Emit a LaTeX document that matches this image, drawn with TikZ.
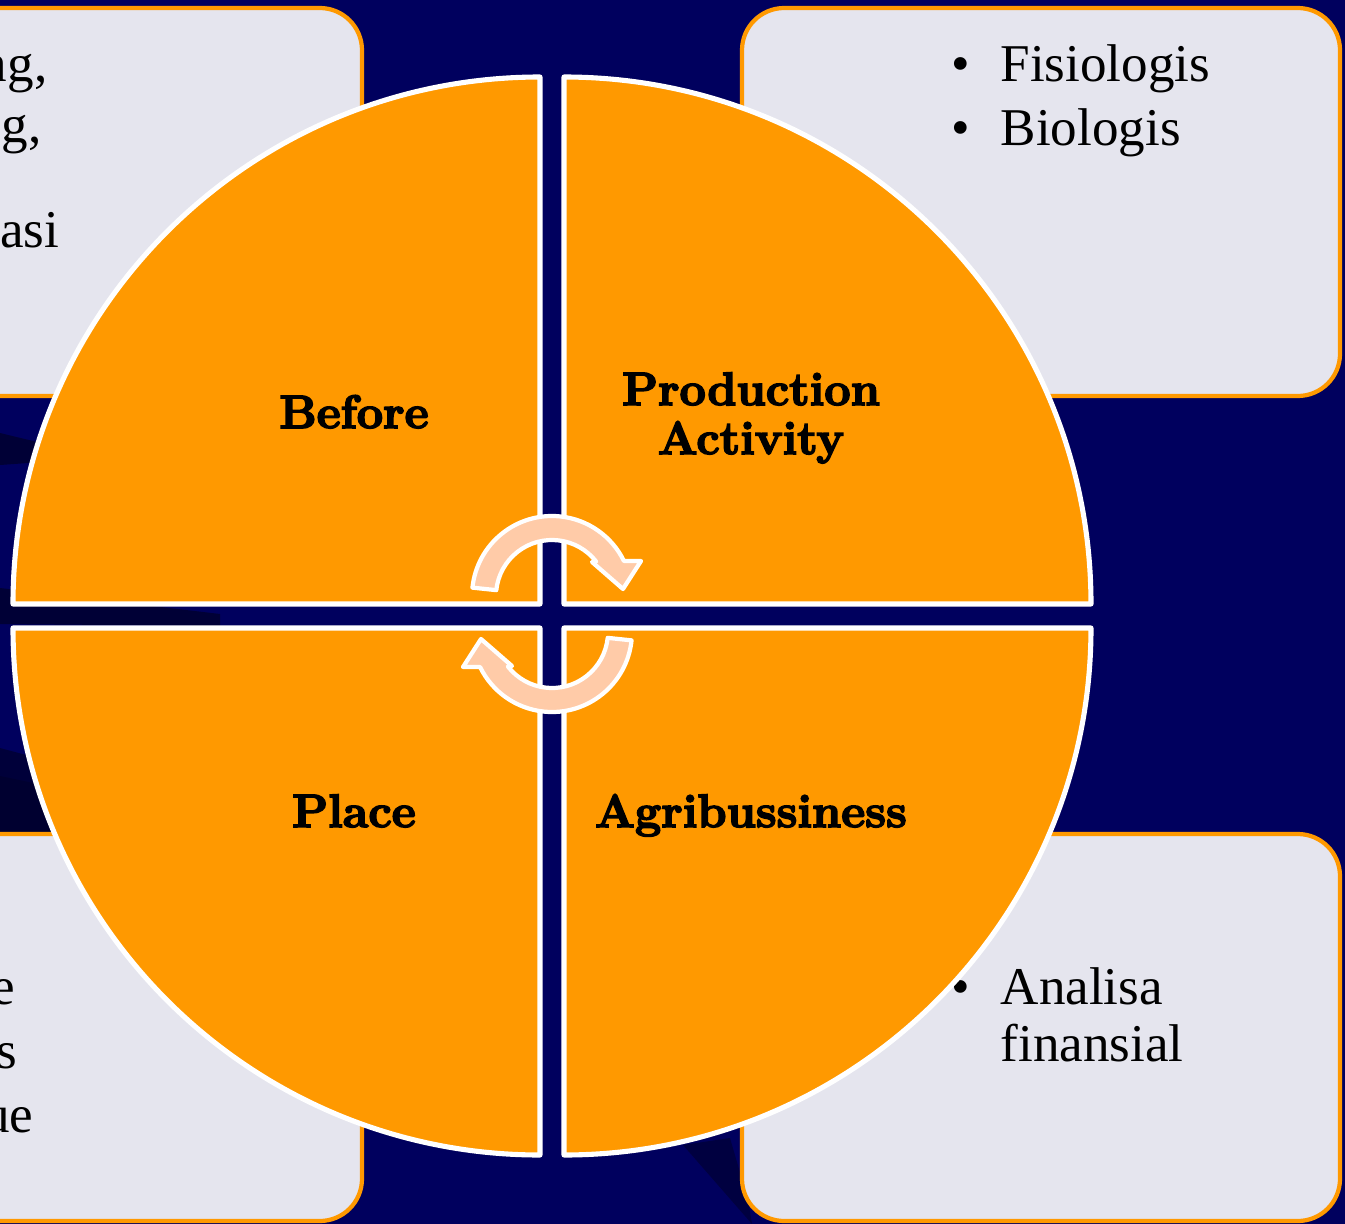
\documentclass[tikz,border=0pt]{standalone}
\usepackage{fontspec}
\setmainfont{Liberation Serif}
\newfontfamily\labelfont{Latin Modern Roman}[BoldFeatures={FakeBold=3.5}]
\definecolor{navy}{RGB}{0,0,94}
\definecolor{deepnavy}{RGB}{0,0,44}
\definecolor{petal}{RGB}{255,153,0}
\definecolor{boxgrey}{RGB}{229,229,238}
\definecolor{peach}{RGB}{255,203,168}
\tikzset{
  infobox/.style={draw=petal, line width=1.2pt, fill=boxgrey, rounded corners=12pt},
  quadrant/.style={fill=petal, draw=white, line width=1.45pt, line join=round},
  boxtext/.style={font=\fontsize{15.1}{18}\selectfont, inner sep=0pt, text=black},
  lbl/.style={font=\labelfont\bfseries\fontsize{13.3}{15}\selectfont, inner sep=0pt, text=black},
  cyclearrow/.style={fill=peach, draw=white, line width=1.2pt, line join=round},
  turnarrow/.pic={
    \path[cyclearrow] (186:80) arc[start angle=186, end angle=334, radius=80]
      -- (89,-35) -- (71,-7) -- (40,-34) -- (322:56)
      arc[start angle=322, end angle=186, radius=56] -- cycle;
  }
}
\begin{document}
\begin{tikzpicture}[x=0.01cm, y=-0.01cm]
  % canvas
  \useasboundingbox (0,0) rectangle (1345,1224);
  \fill[navy] (0,0) rectangle (1345,1224);
  % darker streaks in the backdrop
  \fill[deepnavy, opacity=0.8] (0,433) -- (70,450) -- (70,460) -- (0,465) -- cycle;
  \fill[deepnavy, opacity=0.8] (0,588) -- (220,614) -- (220,626) -- (0,624) -- cycle;
  \fill[deepnavy, opacity=0.7] (0,748) -- (90,772) -- (90,834) -- (0,834) -- cycle;
  \fill[deepnavy, opacity=0.7] (0,776) -- (90,795) -- (90,834) -- (0,834) -- cycle;
  \fill[deepnavy, opacity=0.6] (683,1145) -- (730,1138) -- (748,1200) -- (752,1224) -- cycle;

  % information panels
  \path[infobox] (-60,8) rectangle (362,396);
  \path[infobox] (742,8) rectangle (1340,396);
  \path[infobox] (-60,834) rectangle (362,1221);
  \path[infobox] (742,834) rectangle (1340,1221);

  % panel texts
  \node[boxtext, anchor=base east] (tl1) at (48,81) {ng,};
  \node[boxtext, anchor=base east] (tl2) at (42,143) {g,};
  \node[boxtext, anchor=base east] (tl3) at (60,247) {asi};

  \node[boxtext, anchor=base west] (trb1) at (951,81) {\textbullet};
  \node[boxtext, anchor=base west] (tr1) at (1000,81) {Fisiologis};
  \node[boxtext, anchor=base west] (trb2) at (951,145) {\textbullet};
  \node[boxtext, anchor=base west] (tr2) at (1000,145) {Biologis};

  \node[boxtext, anchor=base east] (bl1) at (16,1004) {e};
  \node[boxtext, anchor=base east] (bl2) at (18,1068) {s};
  \node[boxtext, anchor=base east] (bl3) at (34,1132) {ue};

  \node[boxtext, anchor=base west] (brb1) at (951,1004) {\textbullet};
  \node[boxtext, anchor=base west] (br1) at (1000,1004) {Analisa};
  \node[boxtext, anchor=base west] (br2) at (1000,1061) {finansial};

  % four quadrants of the cycle
  \path[quadrant] (540,604) -- (13,604) arc[start angle=180, end angle=270, radius=527] -- cycle;
  \path[quadrant] (564,604) -- (564,77) arc[start angle=270, end angle=360, radius=527] -- cycle;
  \path[quadrant] (564,628) -- (1091,628) arc[start angle=0, end angle=90, radius=527] -- cycle;
  \path[quadrant] (540,628) -- (540,1155) arc[start angle=90, end angle=180, radius=527] -- cycle;

  % quadrant labels
  \node[lbl, anchor=base] (before) at (354,428) {Before};
  \node[lbl, anchor=base] (prod) at (751,405) {Production};
  \node[lbl, anchor=base] (activity) at (751,454) {Activity};
  \node[lbl, anchor=base] (place) at (354,827) {Place};
  \node[lbl, anchor=base] (agri) at (751,827) {Agribussiness};

  % circular arrows in the middle
  \pic (upperturn) at (552,596) {turnarrow};
  \pic[rotate=180] (lowerturn) at (552,632) {turnarrow};
\end{tikzpicture}
\end{document}
